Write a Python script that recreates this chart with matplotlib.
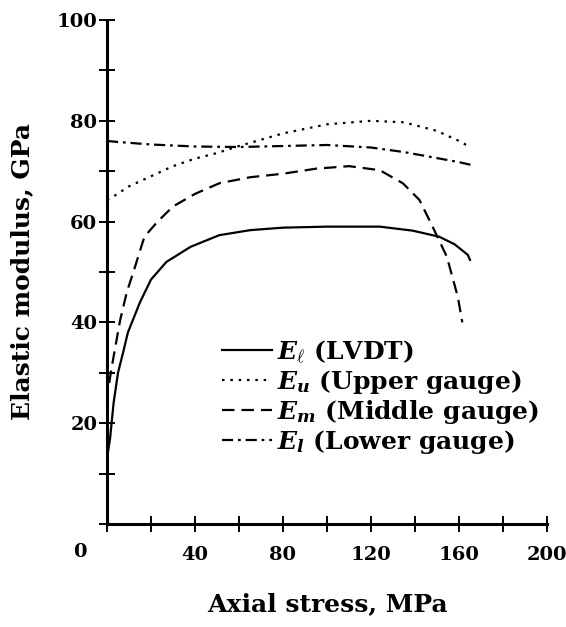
import matplotlib
matplotlib.use("Agg")
import matplotlib.pyplot as plt

plt.rcParams['font.family'] = ['DejaVu Serif']
plt.rcParams['font.weight'] = 'bold'
plt.rcParams['axes.labelweight'] = 'bold'
plt.rcParams['mathtext.fontset'] = 'custom'
plt.rcParams['mathtext.rm'] = 'DejaVu Serif:bold'
plt.rcParams['mathtext.it'] = 'DejaVu Serif:italic:bold'
plt.rcParams['lines.scale_dashes'] = False

# E_l (LVDT)
lvdt_x = [0, 1.4, 3, 5, 7.3, 9.5, 15, 20, 27, 38, 51, 65, 80, 100, 124, 139, 151, 158, 164, 165]
lvdt_y = [13, 17, 24, 30, 34, 38, 44, 48.5, 52, 55, 57.3, 58.3, 58.8, 59, 59, 58.2, 57, 55.5, 53.4, 52.4]

# E_u (upper gauge)
upper_x = [0, 3, 10, 20, 30, 40, 50, 60, 80, 100, 120, 135, 150, 160, 165]
upper_y = [64.3, 65, 67, 69, 71, 72.5, 73.6, 75, 77.5, 79.3, 80, 79.7, 78, 76, 74.8]

# E_m (middle gauge)
middle_x = [1, 2.5, 6, 9, 12, 17, 23, 30, 40, 51, 65, 80, 95, 110, 124, 134.5, 142, 148, 154.5, 159.5, 161.5]
middle_y = [28, 32, 40.5, 46, 50, 57, 60, 63, 65.5, 67.6, 68.8, 69.5, 70.5, 71, 70.2, 67.6, 64.3, 59, 53, 45, 40]

# E_l (lower gauge)
lower_x = [0, 5, 20, 40, 60, 80, 100, 120, 135, 150, 160, 166]
lower_y = [76, 75.8, 75.3, 74.9, 74.8, 75, 75.2, 74.7, 73.8, 72.6, 71.8, 71.2]

x_ticks = list(range(0, 201, 20))
x_labels = ['', '', '40', '', '80', '', '120', '', '160', '', '200']
y_ticks = list(range(0, 101, 10))
y_labels = ['', '', '20', '', '40', '', '60', '', '80', '', '100']

fig = plt.figure(figsize=(5.66, 6.27), dpi=100)
ax = fig.add_axes([107 / 566, 1 - 524 / 627, 440 / 566, 504 / 627])

lw = 1.6
ax.plot(lvdt_x, lvdt_y, color='black', lw=lw, label=r'$E_\ell$ (LVDT)')
ax.plot(upper_x, upper_y, color='black', lw=lw, dashes=(1.8, 4.2), label=r'$E_u$ (Upper gauge)')
ax.plot(middle_x, middle_y, color='black', lw=lw, dashes=(9, 5), label=r'$E_m$ (Middle gauge)')
ax.plot(lower_x, lower_y, color='black', lw=lw, dashes=(8, 3.5, 2, 3.5), label=r'$E_l$ (Lower gauge)')

ax.set_xlim(0, 200)
ax.set_ylim(0, 100)
ax.spines['top'].set_visible(False)
ax.spines['right'].set_visible(False)
ax.spines['left'].set_linewidth(2.2)
ax.spines['bottom'].set_linewidth(2.2)

ax.set_xticks(x_ticks)
ax.set_xticklabels(x_labels)
ax.set_yticks(y_ticks)
ax.set_yticklabels(y_labels)
ax.tick_params(axis='both', direction='inout', length=12, width=1.4, labelsize=14)
ax.tick_params(axis='x', pad=10)
ax.tick_params(axis='y', pad=1)

ax.text(-12.3, -5.5, '0', fontsize=14, ha='center', va='center', clip_on=False)

ax.set_xlabel('Axial stress, MPa', fontsize=18, labelpad=20)
ax.set_ylabel('Elastic modulus, GPa', fontsize=18, labelpad=16)

ax.legend(loc='upper left', bbox_to_anchor=(222 / 566, 1 - 338 / 627),
          bbox_transform=fig.transFigure, frameon=False, fontsize=18,
          handlelength=2.0, handletextpad=0.2, labelspacing=0.08,
          borderpad=0, borderaxespad=0)

fig.savefig('out.png', dpi=100)
